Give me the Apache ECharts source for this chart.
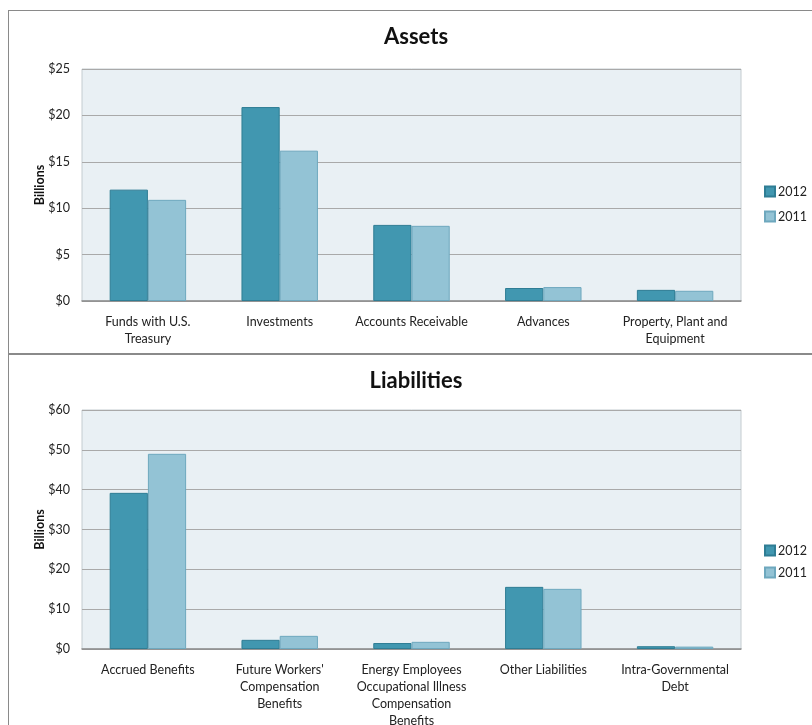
<!DOCTYPE html>
<html><head><meta charset="utf-8">
<script src="https://cdn.jsdelivr.net/npm/echarts@6/dist/echarts.min.js"></script>
<style>
html,body{margin:0;padding:0;background:#fff;width:812px;height:725px;overflow:hidden}
#c1{position:absolute;left:8px;top:10px;width:810px;height:344px;border:1px solid #8a8a8a;box-sizing:border-box}
#c2{position:absolute;left:8px;top:354px;width:810px;height:380px;border:1px solid #8a8a8a;box-sizing:border-box}
</style></head><body>
<div id="c1"></div><div id="c2"></div>
<script>
const assetCategories = ['Funds with U.S.\nTreasury','Investments','Accounts Receivable','Advances','Property, Plant and\nEquipment'];
const assets2012 = [12.0, 20.9, 8.2, 1.4, 1.2];
const assets2011 = [10.9, 16.2, 8.1, 1.5, 1.1];
const assetTicks = ['$0','$5','$10','$15','$20','$25'];

const liabCategories = ['Accrued Benefits','Future Workers\'\nCompensation\nBenefits','Energy Employees\nOccupational Illness\nCompensation\nBenefits','Other Liabilities','Intra-Governmental\nDebt'];
const liab2012 = [39.2, 2.3, 1.5, 15.6, 0.7];
const liab2011 = [49.0, 3.3, 1.8, 15.1, 0.6];
const liabTicks = ['$0','$10','$20','$30','$40','$50','$60'];

const FONT = 'Lato, "Open Sans", sans-serif';
const C12 = '#4197b0', C11 = '#93c3d5';

function makeOption(title, cats, d12, d11, ticks, step, gridTop, gridH, legendTop, legendGap) {
  const max = step * (ticks.length - 1);
  return {
    animation: false,
    textStyle: {fontFamily: FONT},
    title: {text: title, left: 402, textAlign: 'center', top: 10,
      textStyle: {fontSize: 22, fontWeight: 'bold', color: '#111', fontFamily: FONT}},
    legend: {orient: 'vertical', left: 750, top: legendTop, itemWidth: 10, itemHeight: 10, itemGap: legendGap,
      icon: 'rect', textStyle: {fontSize: 12.5, color: '#222', fontFamily: FONT, padding: [0,0,0,-2]},
      data: ['2012','2011']},
    grid: {left: 73, top: gridTop, width: 659, height: gridH, show: true,
      backgroundColor: '#e9f0f4', borderColor: '#c4ccd0', borderWidth: 1},
    xAxis: {type: 'category', data: cats,
      axisLine: {lineStyle: {color: '#8c8c8c', width: 1.5}}, axisTick: {show: false},
      axisLabel: {fontSize: 12.5, color: '#222', lineHeight: 17, margin: 12, interval: 0, fontFamily: FONT}},
    yAxis: {type: 'value', min: 0, max: max, interval: step,
      name: 'Billions', nameLocation: 'middle', nameGap: 36, nameRotate: 90, nameMoveOverlap: false,
      nameTextStyle: {fontSize: 12.5, fontWeight: 'bold', color: '#111', fontFamily: FONT},
      axisLabel: {fontSize: 12.5, color: '#222', margin: 12, fontFamily: FONT,
        formatter: v => ticks[Math.round(v / step)]},
      splitLine: {lineStyle: {color: '#a9a9a9', width: 1.2}}, axisLine: {show: false}, axisTick: {show: false}},
    series: [
      {name: '2012', type: 'bar', data: d12, barGap: '0%', barCategoryGap: '42%',
        itemStyle: {color: C12, borderColor: '#2f7d94', borderWidth: 1}},
      {name: '2011', type: 'bar', data: d11,
        itemStyle: {color: C11, borderColor: '#6ea8be', borderWidth: 1}}
    ]
  };
}

const ch1 = echarts.init(document.getElementById('c1'));
ch1.setOption(makeOption('Assets', assetCategories, assets2012, assets2011, assetTicks, 5, 58, 232, 169, 12));
const ch2 = echarts.init(document.getElementById('c2'));
ch2.setOption(makeOption('Liabilities', liabCategories, liab2012, liab2011, liabTicks, 10, 55, 239, 184, 9));
</script></body></html>
